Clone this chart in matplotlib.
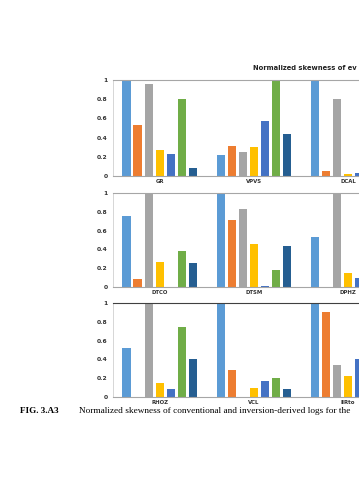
import numpy as np
import matplotlib.pyplot as plt

# logs shown in each of the three panels (only the first three groups are on the page)
panel_logs = [['GR', 'VPVS', 'DCAL'],
              ['DTCO', 'DTSM', 'DPHZ'],
              ['RHOZ', 'VCL', 'IIRto']]

series_colors = ['#5B9BD5', '#ED7D31', '#A5A5A5', '#FFC000', '#4472C4', '#70AD47', '#255E91']

# normalized skewness, one row per group, one column per series
panel1 = [[1.00, 0.53, 0.96, 0.27, 0.23, 0.80, 0.08],
          [0.22, 0.31, 0.25, 0.30, 0.57, 1.00, 0.44],
          [1.00, 0.05, 0.80, 0.02, 0.03, 0.00, 0.00]]
panel2 = [[0.76, 0.09, 1.00, 0.27, 0.005, 0.38, 0.26],
          [1.00, 0.71, 0.83, 0.46, 0.01, 0.18, 0.44],
          [0.53, 0.00, 1.00, 0.15, 0.10, 0.00, 0.00]]
panel3 = [[0.52, 0.00, 1.00, 0.15, 0.09, 0.75, 0.40],
          [1.00, 0.29, 0.00, 0.10, 0.17, 0.20, 0.09],
          [1.00, 0.90, 0.34, 0.22, 0.40, 0.00, 0.00]]
panels = [panel1, panel2, panel3]

yticks = [0, 0.2, 0.4, 0.6, 0.8, 1]
ytick_labels = ['0', '0.2', '0.4', '0.6', '0.8', '1']

W, H = 359, 480
fig = plt.figure(figsize=(W / 100, H / 100), dpi=100)

# pixel boxes (top, bottom) of each plot area
boxes = [(80, 176), (193, 287), (303, 397)]
top_colors = ['#A6A6A6', '#A6A6A6', '#404040']
left_px = 112.7
pitch = 0.117
bar_w = 0.09

for p in range(3):
    top, bot = boxes[p]
    ax = fig.add_axes([left_px / W, 1 - bot / H, 1 - left_px / W, (bot - top) / H])
    vals = np.array(panels[p])
    x = np.arange(len(panel_logs[p]))
    for k in range(7):
        ax.bar(x + (k - 3) * pitch, vals[:, k], width=bar_w, color=series_colors[k])
    ax.set_xlim(-0.5, 2.117)
    ax.set_ylim(0, 1)
    ax.set_yticks(yticks)
    ax.set_yticklabels(ytick_labels, fontsize=4.3, fontweight='bold', color='#333333')
    ax.set_xticks(x)
    ax.set_xticklabels(panel_logs[p], fontsize=3.9, fontweight='bold', color='#333333')
    ax.tick_params(axis='y', length=0, pad=3.5)
    ax.tick_params(axis='x', length=0, pad=2)
    ax.spines['right'].set_visible(False)
    ax.spines['top'].set_color(top_colors[p])
    ax.spines['top'].set_linewidth(0.8)
    ax.spines['left'].set_color('#D0D0D0')
    ax.spines['left'].set_linewidth(0.6)
    ax.spines['bottom'].set_color('#A6A6A6')
    ax.spines['bottom'].set_linewidth(0.8)

fig.text(253 / W, 1 - 68 / H, 'Normalized skewness of ev', fontsize=4.9,
         fontweight='bold', color='#222222', va='center', ha='left')

fig.text(20 / W, 1 - 411 / H, 'FIG. 3.A3', fontsize=6.6, fontweight='bold',
         family='Liberation Serif', va='center', ha='left')
fig.text(79 / W, 1 - 411 / H,
         'Normalized skewness of conventional and inversion-derived logs for the',
         fontsize=6.7, family='Liberation Serif', va='center', ha='left')

fig.savefig('out.png', dpi=100)
